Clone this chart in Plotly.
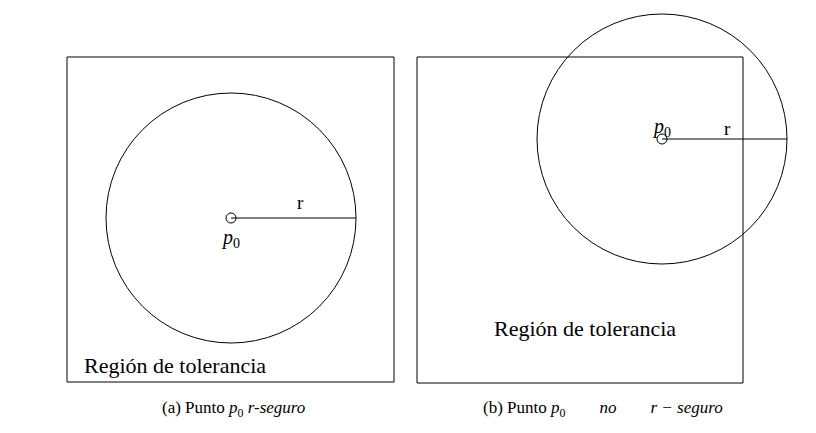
import plotly.graph_objects as go

# diagram geometry in pixel units (x right, y down)
squares = [(67, 57, 394, 382), (417, 57, 743, 383)]
centers = [(231, 218), (662, 139)]
radii = [125, 125]
dot_r = 5
r_labels = [(300, 202), (727, 128)]
p_labels = [(230, 238), (661, 127)]
region_labels = [(82, 365, "left"), (585, 328, "center")]
captions = [(233, 409, "(a) Punto <i>p</i><sub>0</sub> <i>r-seguro</i>"),
            (603, 409, "(b) Punto <i>p</i><sub>0</sub>        <i>no</i>        <i>r − seguro</i>")]

W, H = 816, 433
OFF = 8  # page body margin shifts the plot
font = "Liberation Serif"
line = dict(color="black", width=1)

fig = go.Figure()
fig.add_trace(go.Scatter(x=[OFF, W], y=[OFF, H], mode="markers", marker=dict(opacity=0), hoverinfo="skip"))

for x0, y0, x1, y1 in squares:
    fig.add_shape(type="rect", x0=x0, y0=y0, x1=x1, y1=y1, line=line)
for (cx, cy), r in zip(centers, radii):
    fig.add_shape(type="circle", x0=cx - r, y0=cy - r, x1=cx + r, y1=cy + r, line=line)
    fig.add_shape(type="circle", x0=cx - dot_r, y0=cy - dot_r, x1=cx + dot_r, y1=cy + dot_r, line=line)
    fig.add_shape(type="line", x0=cx, y0=cy, x1=cx + r, y1=cy, line=line)

for x, y in r_labels:
    fig.add_annotation(x=x, y=y, text="r", showarrow=False, font=dict(size=19))
for x, y in p_labels:
    fig.add_annotation(x=x, y=y, text="<i>p</i><sub>0</sub>", showarrow=False, font=dict(size=20))
for x, y, al in region_labels:
    fig.add_annotation(x=x, y=y, text="Región de tolerancia", showarrow=False,
                       xanchor="left" if al == "left" else "center", font=dict(size=22))
for x, y, t in captions:
    fig.add_annotation(x=x, y=y, text=t, showarrow=False, font=dict(size=17))

fig.update_xaxes(range=[OFF, W + OFF], visible=False)
fig.update_yaxes(range=[H + OFF, OFF], visible=False)
fig.update_layout(width=W, height=H, margin=dict(l=0, r=0, t=0, b=0),
                  plot_bgcolor="white", paper_bgcolor="white", showlegend=False,
                  font=dict(family=font, color="black"))
fig.write_html("out.html")
